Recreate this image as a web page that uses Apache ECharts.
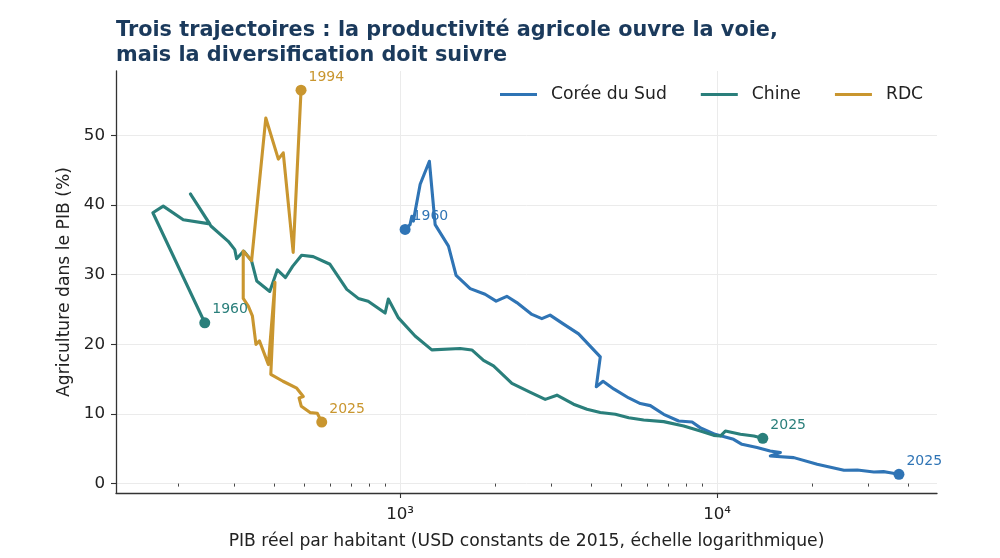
<!DOCTYPE html>
<html>
<head>
<meta charset="utf-8">
<script src="https://cdn.jsdelivr.net/npm/echarts@6/dist/echarts.min.js"></script>
<style>
  html, body { margin: 0; padding: 0; background: #fff; }
  #chart { width: 1000px; height: 558px; }
</style>
</head>
<body>
<div id="chart"></div>
<script>
// PIB par habitant (USD 2015) et part de l'agriculture (%), dans l'ordre chronologique
const koreaX = [1037, 1075, 1089, 1101, 1157, 1237, 1290, 1421, 1502, 1664, 1854, 2009, 2171, 2334, 2605, 2800, 2973, 3280, 3657, 4281, 4158, 4367, 4720, 5263, 5727, 6157, 6785, 7563, 8339, 8837, 9859, 11270, 11980, 13360, 14700, 15840, 14720, 17460, 20690, 22250, 25130, 27690, 31230, 33500, 34810, 37470]
const koreaY = [36.5, 37.2, 38.4, 37.7, 43.0, 46.3, 37.2, 34.1, 29.9, 28.0, 27.2, 26.2, 26.9, 26.0, 24.3, 23.7, 24.2, 22.9, 21.5, 18.2, 13.9, 14.7, 13.6, 12.3, 11.5, 11.2, 9.95, 8.99, 8.84, 8.04, 7.08, 6.36, 5.64, 5.17, 4.68, 4.45, 3.96, 3.73, 2.77, 2.44, 1.91, 1.95, 1.67, 1.72, 1.58, 1.34]

const chinaX = [242, 166, 179, 207, 251, 218, 253, 287, 301, 305, 321, 340, 353, 388, 410, 435, 458, 489, 532, 601, 679, 738, 793, 897, 918, 988, 1115, 1259, 1547, 1684, 1833, 1971, 2253, 2567, 2870, 3124, 3525, 3886, 4281, 4777, 5263, 5865, 6785, 7849, 8858, 9760, 10240, 10620, 11850, 13060, 13940]
const chinaY = [23.1, 38.9, 39.85, 37.9, 37.3, 41.6, 37.0, 34.8, 33.6, 32.3, 33.4, 32.0, 29.1, 27.6, 30.7, 29.6, 31.2, 32.8, 32.6, 31.5, 27.9, 26.6, 26.2, 24.5, 26.5, 23.8, 21.2, 19.2, 19.4, 19.2, 17.7, 16.9, 14.4, 13.15, 12.1, 12.7, 11.4, 10.67, 10.2, 9.95, 9.47, 9.13, 8.9, 8.27, 7.55, 6.93, 6.83, 7.55, 7.08, 6.83, 6.5]

const rdcX = [487, 460, 428, 413, 377, 340, 320, 320, 332, 342, 351, 360, 377, 384, 403, 391, 427, 472, 495, 480, 488, 520, 548, 566]
const rdcY = [56.5, 33.2, 47.5, 46.6, 52.5, 32.0, 33.4, 26.6, 25.5, 24.1, 20.0, 20.5, 18.1, 17.1, 28.9, 15.7, 14.7, 13.7, 12.5, 12.3, 11.1, 10.2, 10.1, 8.84]

const names = ['Corée du Sud', 'Chine', 'RDC']
const startYears = [1960, 1960, 1994]
const endYears = [2025, 2025, 2025]
const colors = ['#2f74b5', '#2a7f7b', '#c9962f']

const yTicks = [0, 10, 20, 30, 40, 50]
const xMajor = [1000, 10000]
const xMinor = [200, 300, 400, 500, 600, 700, 800, 900, 2000, 3000, 4000, 5000, 6000, 7000, 8000, 9000, 20000, 30000, 40000]

const font = 'DejaVu Sans'
const sup = {'0': '⁰', '1': '¹', '2': '²', '3': '³', '4': '⁴', '5': '⁵'}

function zip(xs, ys) {
    return xs.map((v, i) => [v, ys[i]])
}

let allX = [koreaX, chinaX, rdcX]
let allY = [koreaY, chinaY, rdcY]
let series = []
allX.forEach((xs, i) => {
    series.push({
        name: names[i],
        type: 'line',
        data: zip(xs, allY[i]),
        showSymbol: false,
        symbol: 'none',
        lineStyle: { width: 3.1, color: colors[i], join: 'round', cap: 'round' },
        itemStyle: { color: colors[i] },
        z: 2 + i
    })
})
// points de début et de fin avec l'année
allX.forEach((xs, i) => {
    let ys = allY[i]
    let n = xs.length - 1
    series.push({
        type: 'scatter',
        data: [
            { value: [xs[0], ys[0]], year: startYears[i] },
            { value: [xs[n], ys[n]], year: endYears[i] }
        ],
        symbolSize: 11,
        itemStyle: { color: colors[i], opacity: 1 },
        label: {
            show: true,
            position: 'right',
            distance: 2,
            offset: [0, -13],
            formatter: p => String(p.data.year),
            color: colors[i],
            fontFamily: font,
            fontSize: 14
        },
        z: 6
    })
})

let myChart = echarts.init(document.getElementById('chart'), null, { renderer: 'canvas' })
let option = {
    backgroundColor: '#ffffff',
    animation: false,
    title: {
        text: 'Trois trajectoires : la productivité agricole ouvre la voie,\nmais la diversification doit suivre',
        left: 111,
        top: 13,
        padding: [5, 5, 5, 5],
        textStyle: { fontFamily: font, fontSize: 20.8, fontWeight: 'bold', color: '#1b3a5c', lineHeight: 25 }
    },
    legend: {
        data: names,
        left: 500,
        top: 86,
        padding: 0,
        icon: 'rect',
        itemWidth: 37,
        itemHeight: 3.2,
        itemGap: 34,
        textStyle: { fontFamily: font, fontSize: 17.2, color: '#222', padding: [0, 0, 0, 9] }
    },
    grid: { left: 116, right: 63, top: 71, bottom: 65, containLabel: false },
    xAxis: [
        {
            type: 'log',
            logBase: 10,
            min: 127,
            max: 49400,
            name: 'PIB réel par habitant (USD constants de 2015, échelle logarithmique)',
            nameLocation: 'middle',
            nameGap: 40,
            nameTextStyle: { fontFamily: font, fontSize: 17.2, color: '#222' },
            axisLine: { show: true, onZero: false, lineStyle: { color: '#333', width: 1.3 } },
            axisTick: { show: true, customValues: xMajor, length: 5, lineStyle: { color: '#333', width: 1.1 } },
            axisLabel: {
                customValues: xMajor,
                margin: 13,
                fontFamily: font,
                fontSize: 16.7,
                color: '#222',
                formatter: v => '10' + String(Math.round(Math.log10(v))).split('').map(c => sup[c]).join('')
            },
            splitLine: { show: true, lineStyle: { color: '#ebebeb', width: 1 } },
            minorTick: { show: false },
            minorSplitLine: { show: false }
        },
        {
            type: 'log',
            logBase: 10,
            min: 127,
            max: 49400,
            position: 'bottom',
            axisLine: { show: false },
            axisTick: { show: true, customValues: xMinor, length: 3, lineStyle: { color: '#333', width: 0.9 } },
            axisLabel: { show: false },
            splitLine: { show: false }
        }
    ],
    yAxis: {
        type: 'value',
        min: -1.35,
        max: 59.26,
        name: 'Agriculture dans le PIB (%)',
        nameLocation: 'middle',
        nameGap: 43,
        nameTextStyle: { fontFamily: font, fontSize: 17.2, color: '#222' },
        axisLine: { show: true, onZero: false, lineStyle: { color: '#333', width: 1.3 } },
        axisTick: { show: true, customValues: yTicks, length: 5, lineStyle: { color: '#333', width: 1.1 } },
        axisLabel: { customValues: yTicks, margin: 11, fontFamily: font, fontSize: 16.7, color: '#222' },
        splitLine: { show: true, lineStyle: { color: '#ebebeb', width: 1 } }
    },
    series: series
}
myChart.setOption(option)
</script>
</body>
</html>
